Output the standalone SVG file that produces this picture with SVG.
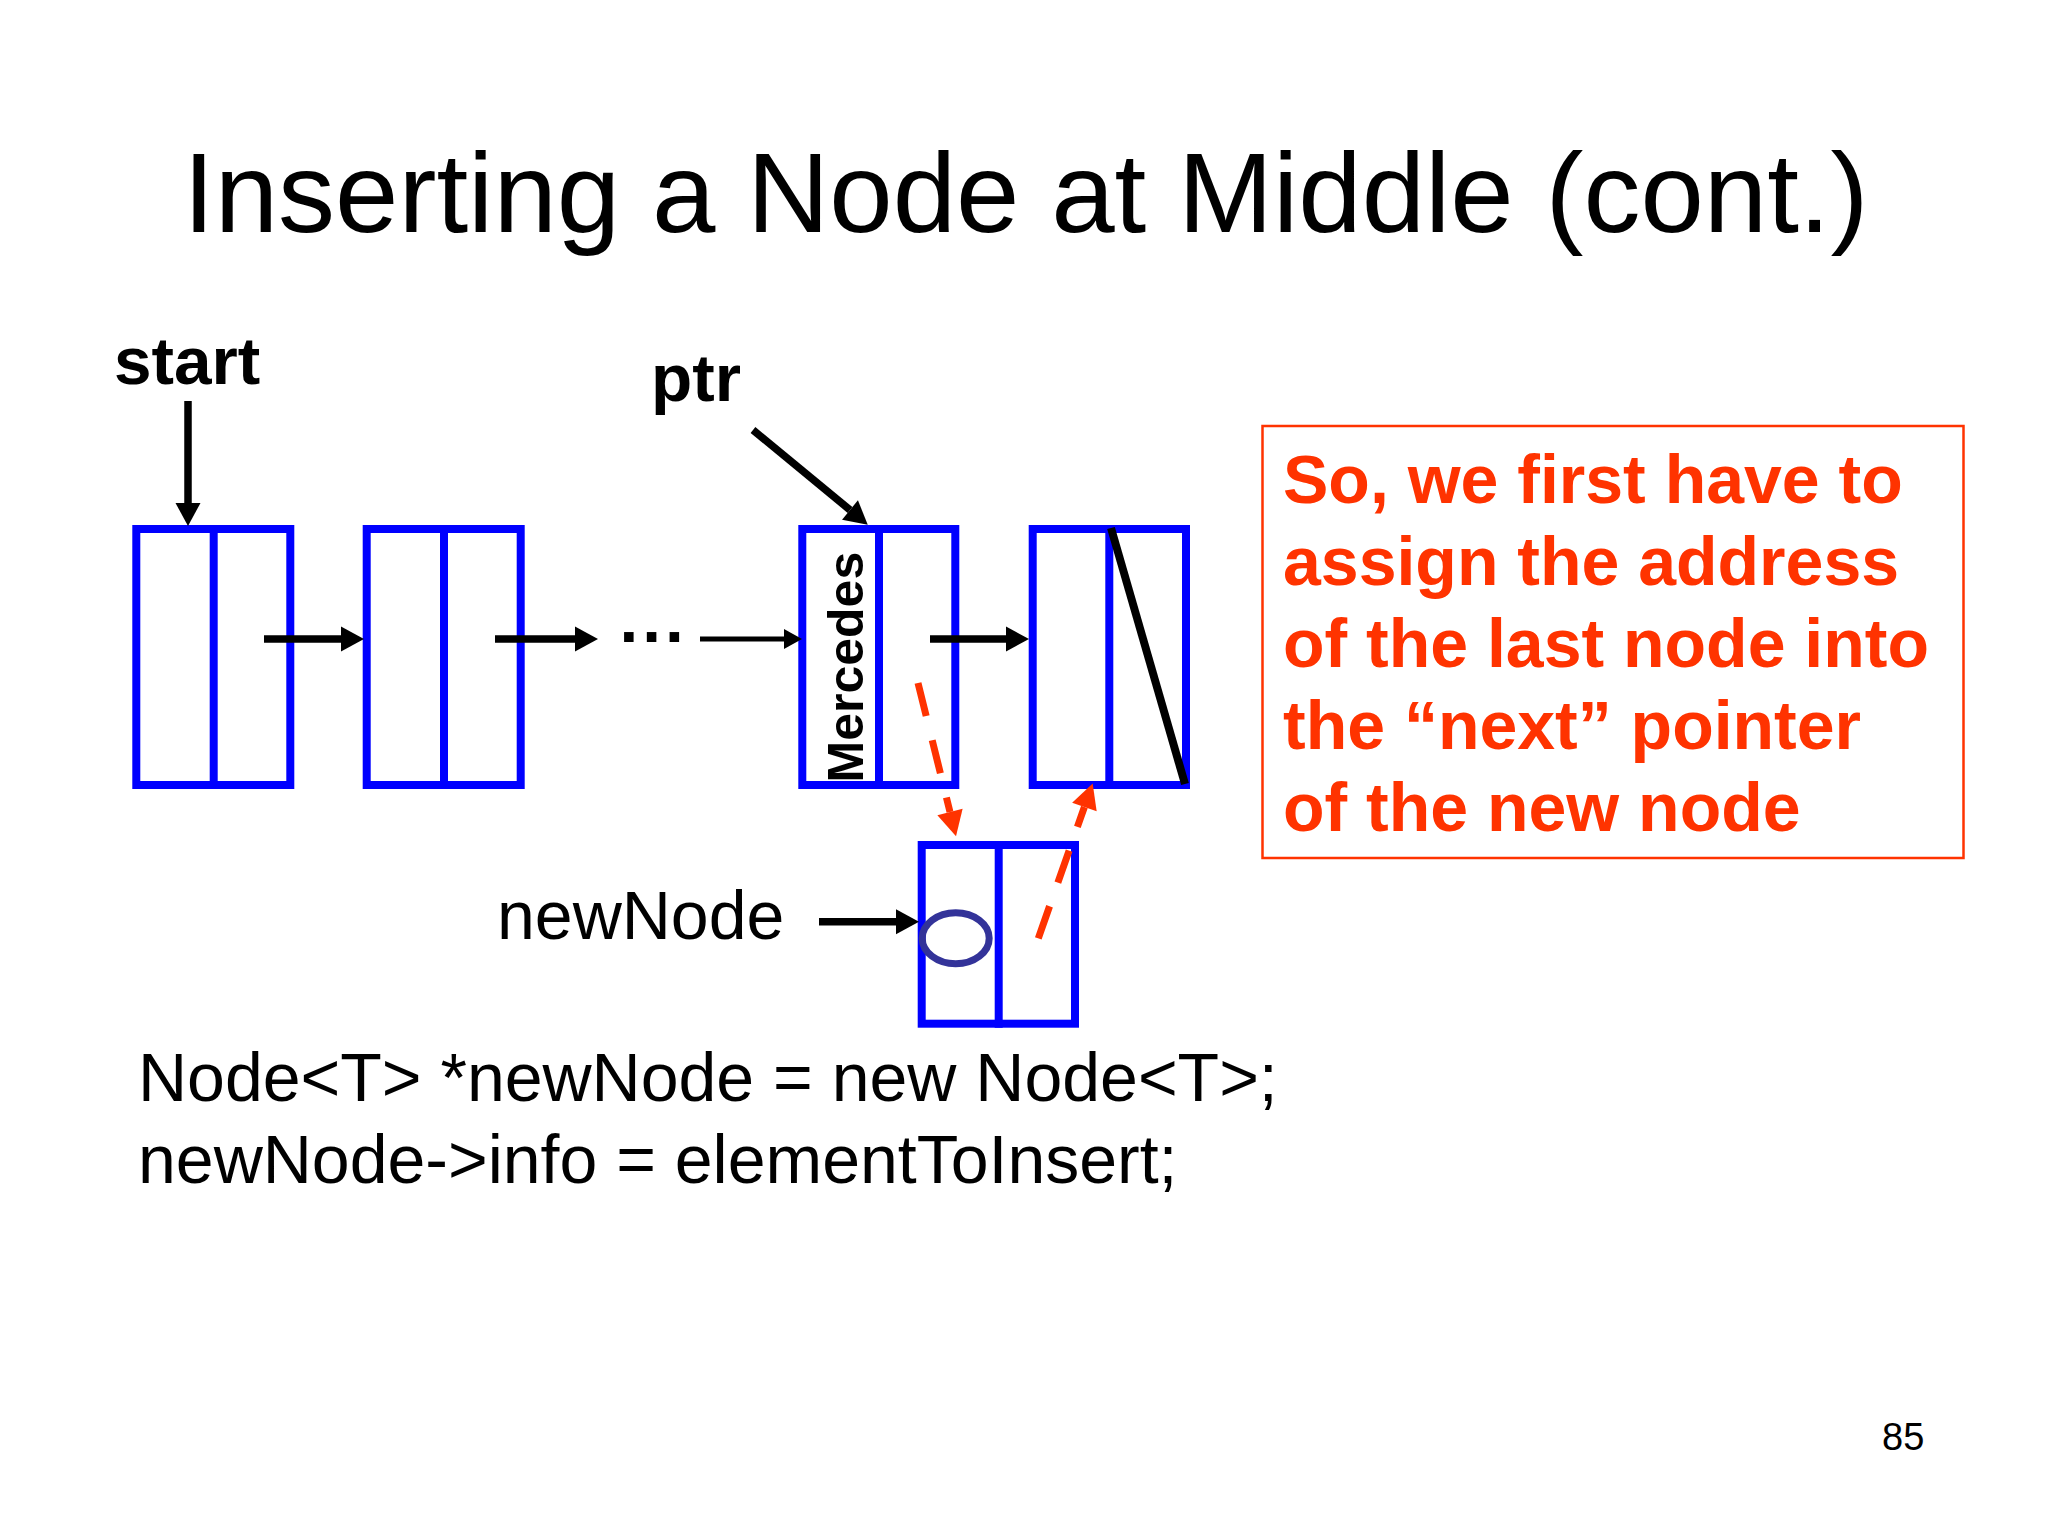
<svg xmlns="http://www.w3.org/2000/svg" width="2048" height="1536" viewBox="0 0 2048 1536">
  <style>
    .box { fill: #ffffff; stroke: #0000ff; stroke-width: 8; }
    .div { stroke: #0000ff; stroke-width: 8; }
    .txt { font-family: "Liberation Sans", Arial, Helvetica, sans-serif; fill: #000000; }
    .bold { font-weight: bold; }
    .red { fill: #ff3300; }
    .blk { stroke: #000000; stroke-width: 7.5; fill: none; }
    .diag { stroke: #000000; stroke-width: 8; fill: none; }
    .thin { stroke: #000000; stroke-width: 5; fill: none; }
    .dash { stroke: #ff3300; stroke-width: 7; fill: none; stroke-dasharray: 34 25; }
  </style>
  <defs>
    <marker id="ah" markerUnits="userSpaceOnUse" markerWidth="24" markerHeight="26" refX="0" refY="12.5" orient="auto" viewBox="0 0 24 25" overflow="visible">
      <path d="M0,0 L23,12.5 L0,25 Z" fill="#000000"/>
    </marker>
    <marker id="ahs" markerUnits="userSpaceOnUse" markerWidth="20" markerHeight="22" refX="0" refY="10" orient="auto" viewBox="0 0 20 20" overflow="visible">
      <path d="M0,0 L18,10 L0,20 Z" fill="#000000"/>
    </marker>
    <marker id="ahr" markerUnits="userSpaceOnUse" markerWidth="26" markerHeight="26" refX="0" refY="12.5" orient="auto" viewBox="0 0 24 25" overflow="visible">
      <path d="M0,0 L24,12.5 L0,25 Z" fill="#ff3300"/>
    </marker>
  </defs>

  <rect x="0" y="0" width="2048" height="1536" fill="#ffffff"/>

  <g id="title">
    <text class="txt" x="183" y="232" font-size="114">Inserting a Node at Middle (cont.)</text>
  </g>

  <g id="label-start">
    <text class="txt bold" x="114" y="384" font-size="67.5">start</text>
  </g>
  <g id="label-ptr">
    <text class="txt bold" x="651" y="401" font-size="67.5">ptr</text>
  </g>
  <g id="label-dots">
    <text class="txt bold" x="619.5" y="642" font-size="67.5" letter-spacing="4">...</text>
  </g>
  <g id="label-newNode">
    <text class="txt" x="497" y="939" font-size="68">newNode</text>
  </g>

  <g id="node1">
    <rect class="box" x="136.3" y="529" width="154" height="256"/>
    <line class="div" x1="213.7" y1="525" x2="213.7" y2="789"/>
  </g>
  <g id="node2">
    <rect class="box" x="366.7" y="529" width="154" height="256"/>
    <line class="div" x1="444" y1="525" x2="444" y2="789"/>
  </g>
  <g id="node3">
    <rect class="box" x="802.3" y="529" width="153" height="256"/>
    <line class="div" x1="879" y1="525" x2="879" y2="789"/>
    <text class="txt bold" transform="translate(863,782.5) rotate(-90)" x="0" y="0" font-size="50">Mercedes</text>
  </g>
  <g id="node4">
    <rect class="box" x="1032.7" y="529" width="153.3" height="256"/>
    <line class="div" x1="1109.3" y1="525" x2="1109.3" y2="789"/>
    <line class="diag" x1="1111" y1="528" x2="1185" y2="784"/>
  </g>
  <g id="newnode">
    <rect class="box" x="921.7" y="845" width="153.3" height="178.7"/>
    <line class="div" x1="998.7" y1="841" x2="998.7" y2="1027.7"/>
    <ellipse cx="955.7" cy="938.3" rx="33.5" ry="25.5" fill="none" stroke="#333399" stroke-width="7"/>
  </g>

  <g id="connectors">
    <line class="blk" x1="188" y1="401" x2="188" y2="503" marker-end="url(#ah)"/>
    <line class="blk" x1="753" y1="430" x2="850" y2="510" marker-end="url(#ah)"/>
    <line class="blk" x1="264" y1="639" x2="341" y2="639" marker-end="url(#ah)"/>
    <line class="blk" x1="495" y1="639" x2="575" y2="639" marker-end="url(#ah)"/>
    <line class="thin" x1="700" y1="639" x2="784" y2="639" marker-end="url(#ahs)"/>
    <line class="blk" x1="930" y1="639" x2="1006" y2="639" marker-end="url(#ah)"/>
    <line class="blk" x1="819" y1="921.7" x2="896" y2="921.7" marker-end="url(#ah)"/>
    <line class="dash" x1="918" y1="683" x2="950" y2="812" marker-end="url(#ahr)"/>
    <line class="dash" x1="1038.3" y1="938.3" x2="1084.4" y2="807" marker-end="url(#ahr)"/>
  </g>

  <g id="note">
    <rect x="1262.5" y="426" width="701" height="432" fill="none" stroke="#ff3300" stroke-width="2.5"/>
    <text class="txt bold red" font-size="68">
      <tspan x="1283" y="503">So, we first have to</tspan>
      <tspan x="1283" y="585">assign the address</tspan>
      <tspan x="1283" y="667">of the last node into</tspan>
      <tspan x="1283" y="749">the “next” pointer</tspan>
      <tspan x="1283" y="831">of the new node</tspan>
    </text>
  </g>

  <g id="code">
    <text class="txt" font-size="68">
      <tspan x="138" y="1101">Node&lt;T&gt; *newNode = new Node&lt;T&gt;;</tspan>
      <tspan x="138" y="1183">newNode-&gt;info = elementToInsert;</tspan>
    </text>
  </g>

  <g id="page-number">
    <text class="txt" x="1882" y="1450" font-size="38">85</text>
  </g>
</svg>
